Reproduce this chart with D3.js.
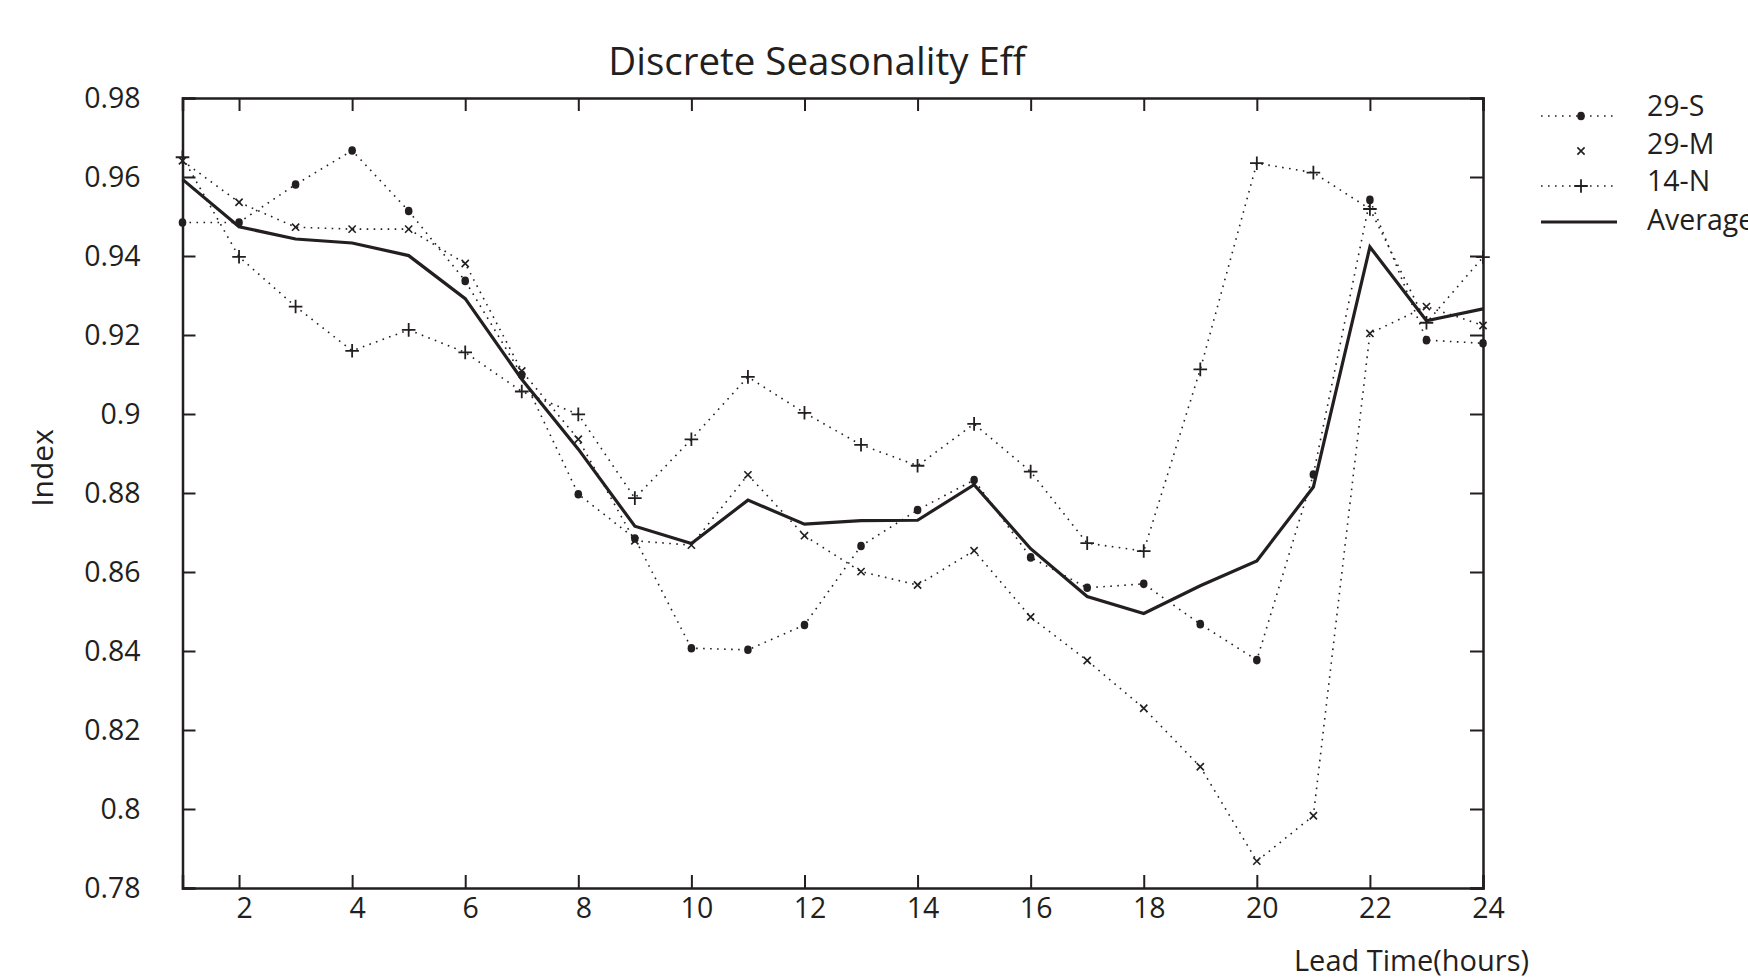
<!DOCTYPE html>
<html>
<head>
<meta charset="utf-8">
<script src="https://cdn.jsdelivr.net/npm/d3@7"></script>
<style>
  body { margin: 0; background: #fff; }
  svg text { font-family: "Open Sans", sans-serif; fill: #231f20; }
</style>
</head>
<body>
<div id="chart"></div>
<script>
const hours = d3.range(1, 25);
const s29 = [0.9485, 0.9485, 0.9581, 0.9667, 0.9514, 0.9337, 0.9099, 0.8797, 0.8685, 0.8407, 0.8403, 0.8466,
             0.8666, 0.8757, 0.8833, 0.8637, 0.8560, 0.8570, 0.8468, 0.8377, 0.8847, 0.9542, 0.9187, 0.9179];
const m29 = [0.9641, 0.9536, 0.9473, 0.9468, 0.9468, 0.9381, 0.9109, 0.8936, 0.8679, 0.8668, 0.8846, 0.8692,
             0.8601, 0.8567, 0.8654, 0.8486, 0.8376, 0.8255, 0.8107, 0.7868, 0.7983, 0.9204, 0.9272, 0.9224];
const n14 = [0.9650, 0.9398, 0.9272, 0.9160, 0.9213, 0.9156, 0.9057, 0.8999, 0.8787, 0.8936, 0.9094, 0.9003,
             0.8922, 0.8869, 0.8975, 0.8854, 0.8673, 0.8653, 0.9113, 0.9635, 0.9611, 0.9519, 0.9231, 0.9397];
const avg = [0.9594, 0.9474, 0.9443, 0.9433, 0.9401, 0.9292, 0.9088, 0.8911, 0.8716, 0.8672, 0.8782, 0.8721,
             0.8730, 0.8731, 0.8821, 0.8659, 0.8538, 0.8495, 0.8565, 0.8628, 0.8815, 0.9423, 0.9236, 0.9266];
const xTicks = [2, 4, 6, 8, 10, 12, 14, 16, 18, 20, 22, 24];
const yTicks = [0.78, 0.8, 0.82, 0.84, 0.86, 0.88, 0.9, 0.92, 0.94, 0.96, 0.98];
const names = ['29-S', '29-M', '14-N', 'Average'];

const W = 1748, H = 979;
const ink = '#231f20';
const x = d3.scaleLinear().domain([1, 24]).range([182.5, 1483]);
const y = d3.scaleLinear().domain([0.78, 0.98]).range([888, 98]);

const svg = d3.select('#chart').append('svg')
  .attr('width', W).attr('height', H);

// title and axis labels
svg.append('text')
  .attr('x', 817).attr('y', 75)
  .attr('text-anchor', 'middle')
  .attr('font-size', 38.5)
  .text('Discrete Seasonality Eff');

svg.append('text')
  .attr('transform', 'translate(53,468) rotate(-90)')
  .attr('text-anchor', 'middle')
  .attr('font-size', 30)
  .text('Index');

svg.append('text')
  .attr('x', 1529).attr('y', 971)
  .attr('text-anchor', 'end')
  .attr('font-size', 29)
  .text('Lead Time(hours)');

// axes (ticks point inward)
const tickLen = 13;
const gx = svg.append('g').attr('transform', `translate(0,${y(0.78)})`)
  .call(d3.axisBottom(x).tickValues(xTicks).tickSize(-tickLen).tickPadding(10));
const gxTop = svg.append('g').attr('transform', `translate(0,${y(0.98)})`)
  .call(d3.axisTop(x).tickValues(xTicks).tickSize(-tickLen).tickFormat(''));
const gy = svg.append('g').attr('transform', `translate(${x(1)},0)`)
  .call(d3.axisLeft(y).tickValues(yTicks).tickSize(-tickLen).tickPadding(42)
    .tickFormat(d => String(+d.toFixed(2))));
const gyRight = svg.append('g').attr('transform', `translate(${x(24)},0)`)
  .call(d3.axisRight(y).tickValues(yTicks).tickSize(-tickLen).tickFormat(''));

[gx, gxTop, gy, gyRight].forEach(g => {
  g.select('.domain').attr('stroke', ink).attr('stroke-width', 2.5);
  g.selectAll('.tick line').attr('stroke', ink).attr('stroke-width', 2);
  g.selectAll('.tick text').attr('font-size', 28.5).attr('fill', ink)
    .style('font-family', '"Open Sans", sans-serif');
});
gx.selectAll('.tick text').attr('dx', 5);
gy.selectAll('.tick text').attr('dy', '0.35em');

// series
const line = d3.line().x((d, i) => x(hours[i])).y(d => y(d));
const series = [s29, m29, n14];
const plot = svg.append('g');

series.forEach(vals => {
  plot.append('path')
    .datum(vals)
    .attr('d', line)
    .attr('fill', 'none')
    .attr('stroke', ink)
    .attr('stroke-width', 1.6)
    .attr('stroke-dasharray', '1.6,5.4');
});

plot.append('path')
  .datum(avg)
  .attr('d', line)
  .attr('fill', 'none')
  .attr('stroke', ink)
  .attr('stroke-width', 3.2)
  .attr('stroke-linejoin', 'miter');

function dotMark(g, cx, cy) {
  g.append('ellipse').attr('cx', cx).attr('cy', cy).attr('rx', 3.8).attr('ry', 4.3).attr('fill', ink);
}
function crossMark(g, cx, cy) {
  const r = 3.6;
  g.append('path')
    .attr('d', `M${cx - r},${cy - r}L${cx + r},${cy + r}M${cx - r},${cy + r}L${cx + r},${cy - r}`)
    .attr('stroke', ink).attr('stroke-width', 1.6);
}
function plusMark(g, cx, cy) {
  const r = 6.8;
  g.append('path')
    .attr('d', `M${cx - r},${cy}L${cx + r},${cy}M${cx},${cy - r}L${cx},${cy + r}`)
    .attr('stroke', ink).attr('stroke-width', 1.8);
}
const markers = [dotMark, crossMark, plusMark];

series.forEach((vals, k) => {
  vals.forEach((v, i) => markers[k](plot, x(hours[i]), y(v)));
});

// legend (the last label runs past the right edge, as in the source figure)
const legend = svg.append('g');
const lx0 = 1541, lx1 = 1617;
const ly = [116, 151, 186, 222];
const textY = [116, 154, 191, 230];
names.forEach((name, k) => {
  if (k === 3) {
    legend.append('line').attr('x1', lx0).attr('x2', lx1).attr('y1', ly[k]).attr('y2', ly[k])
      .attr('stroke', ink).attr('stroke-width', 3.2);
  } else {
    if (k !== 1) {
      legend.append('line').attr('x1', lx0).attr('x2', lx1).attr('y1', ly[k]).attr('y2', ly[k])
        .attr('stroke', ink).attr('stroke-width', 1.6).attr('stroke-dasharray', '1.6,5.4');
    }
    markers[k](legend, (lx0 + lx1) / 2 + 2, ly[k]);
  }
  legend.append('text')
    .attr('x', 1647).attr('y', textY[k])
    .attr('font-size', 28.5)
    .text(name);
});
</script>
</body>
</html>
